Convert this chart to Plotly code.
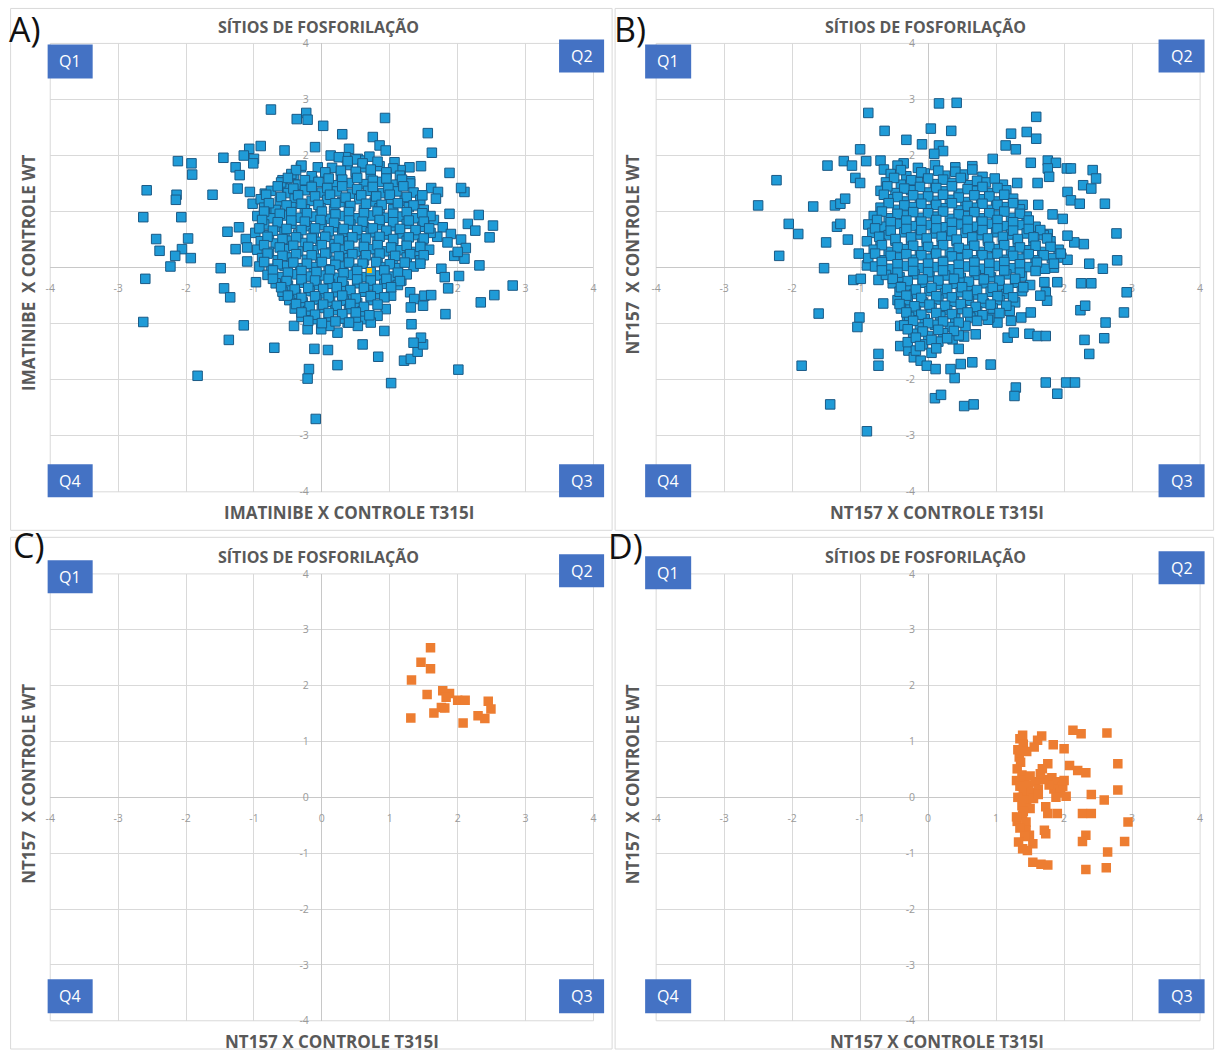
import plotly.graph_objects as go

# ---------------- DATA ----------------
TITLE = "SÍTIOS DE FOSFORILAÇÃO"
x_titles = ["IMATINIBE X CONTROLE T315I", "NT157 X CONTROLE T315I", "NT157 X CONTROLE T315I", "NT157 X CONTROLE T315I"]
y_titles = ["IMATINIBE\u00a0 X CONTROLE WT", "NT157\u00a0 X CONTROLE WT", "NT157\u00a0 X CONTROLE WT", "NT157\u00a0 X CONTROLE WT"]
panel_letters = ["A)", "B)", "C)", "D)"]
quadrant_labels = ["Q1", "Q2", "Q3", "Q4"]
tick_values = [-4, -3, -2, -1, 0, 1, 2, 3, 4]
tick_labels = ["-4", "-3", "-2", "-1", "0", "1", "2", "3", "4"]

# Panel A (blue)
panel_a_x = [
    -0.75, -0.37, -0.23, -0.21, 0.02, 0.93, 0.30, 1.56, 1.62, 0.75,
    0.85, 0.94, 0.13, -0.10, -0.55, -0.90, -1.07, -1.15, -1.00, -1.01,
    -1.45, -2.12, -1.92, -1.91, -1.27, -1.21, -2.58, -2.14, -2.15, -1.61,
    -1.24, -1.06, -0.84, -2.63, -2.07, -2.44, -2.39, -1.97, -2.06, -2.16,
    -1.93, -2.23, -2.60, -2.63, -1.83, -1.49, -1.39, -1.22, -1.12, -1.27,
    -1.10, -1.10, -0.97, -1.44, -1.35, -1.15, -1.37, -0.70, -0.41, -0.21,
    -0.11, 0.09, 0.23, -0.19, -0.21, -0.09, 1.02, 2.01, 0.83, 0.60,
    1.21, 1.31, 1.41, 1.49, 1.46, 1.35, 1.32, 0.92, 1.82, 2.34,
    2.54, 2.81, 1.86, 2.02, 2.32, 2.47, 2.52, 2.31, 2.15, 2.26,
    2.10, 2.05, 1.88, 1.46, 1.29, 1.30, 1.95, 2.10, 1.76, 1.81,
    1.61, 1.71, 1.68, 1.88, 1.30, 1.36, 1.51, 1.61, 1.31, 1.49,
    1.17, 1.02, 0.94, 0.82, 0.62, 0.38, 0.23, 0.11, -0.01, 0.53,
    0.72, -0.56, -0.41, -0.31, -0.06, -0.41, -0.14, -0.58, -0.51, -1.02,
    -0.85, -0.70, 0.40, 0.35, 0.53, 0.60, 1.07, 1.16,
    1.65, 1.78, 1.90, 1.70, 1.85, 2.05, 2.12, 2.00,
    # dense core, layer 1
    0.25, 0.50, 0.70,
    -0.30, 0.15, 0.38, 0.60, 0.85, 1.05,
    -0.45, -0.15, 0.05, 0.28, 0.50, 0.72, 0.95, 1.15,
    -0.60, -0.35, -0.05, 0.18, 0.40, 0.62, 0.85, 1.05, 1.30,
    -0.75, -0.50, -0.25, 0.00, 0.22, 0.45, 0.68, 0.90, 1.10, 1.35,
    -0.90, -0.62, -0.40, -0.15, 0.08, 0.30, 0.55, 0.78, 1.00, 1.22, 1.45,
    -0.85, -0.68, -0.45, -0.25, -0.02, 0.18, 0.40, 0.62, 0.85, 1.05, 1.28, 1.50,
    -0.95, -0.75, -0.55, -0.35, -0.12, 0.08, 0.30, 0.50, 0.72, 0.95, 1.15, 1.38, 1.60,
    -0.85, -0.65, -0.45, -0.22, 0.00, 0.20, 0.42, 0.62, 0.85, 1.05, 1.25, 1.48,
    -0.98, -0.78, -0.55, -0.35, -0.12, 0.08, 0.30, 0.52, 0.72, 0.95, 1.15, 1.38, 1.60,
    -0.90, -0.68, -0.45, -0.25, -0.02, 0.18, 0.40, 0.62, 0.82, 1.05, 1.25, 1.48,
    -0.95, -0.78, -0.55, -0.35, -0.12, 0.08, 0.30, 0.50, 0.72, 0.92, 1.15, 1.38, 1.58,
    -0.88, -0.65, -0.45, -0.22, -0.02, 0.20, 0.40, 0.62, 0.82, 1.05, 1.25, 1.45,
    -0.92, -0.75, -0.55, -0.32, -0.12, 0.10, 0.30, 0.50, 0.92, 1.12, 1.35,
    -0.80, -0.62, -0.42, -0.20, 0.00, 0.20, 0.42, 0.62, 0.82, 1.02, 1.25,
    -0.68, -0.50, -0.30, -0.08, 0.12, 0.32, 0.52, 0.72, 0.92, 1.12,
    -0.58, -0.38, -0.18, 0.02, 0.22, 0.42, 0.62, 0.82,
    -0.48, -0.28, -0.08, 0.12, 0.32, 0.52, 0.72,
    -0.40, -0.20, 0.00, 0.20, 0.40, 0.60,
    -0.30, -0.10, 0.10, 0.30, 0.50,
    # dense core, layer 2
    0.38, 0.60, 0.82,
    -0.38, 0.05, 0.28, 0.50, 0.72, 0.95,
    -0.50, -0.25, 0.10, 0.30, 0.52, 0.75, 0.95, 1.18,
    -0.65, -0.42, -0.15, 0.08, 0.30, 0.52, 0.75, 0.98, 1.20,
    -0.82, -0.60, -0.35, -0.10, 0.12, 0.35, 0.58, 0.80, 1.00, 1.25, 1.48,
    -0.78, -0.52, -0.30, -0.05, 0.20, 0.42, 0.65, 0.88, 1.12, 1.35,
    -0.85, -0.62, -0.45, -0.22, 0.00, 0.20, 0.40, 0.62, 0.82, 1.05, 1.25, 1.48,
    -0.88, -0.65, -0.45, -0.25, -0.02, 0.18, 0.40, 0.60, 0.85, 1.05, 1.28, 1.50,
    -0.92, -0.72, -0.52, -0.30, -0.10, 0.10, 0.32, 0.52, 0.75, 0.95, 1.15, 1.38, 1.58,
    -0.80, -0.58, -0.38, -0.15, 0.05, 0.25, 0.45, 0.65, 0.85, 1.05, 1.28, 1.50,
    -0.85, -0.62, -0.42, -0.20, 0.00, 0.20, 0.40, 0.62, 0.82, 1.02, 1.25, 1.45,
    -0.80, -0.58, -0.38, -0.15, 0.05, 0.25, 0.45, 0.65, 0.85, 1.08, 1.30, 1.50,
    -0.85, -0.65, -0.42, -0.22, 0.00, 0.20, 0.40, 0.60, 0.80, 1.00, 1.22, 1.45,
    -0.72, -0.50, -0.30, -0.08, 0.12, 0.32, 0.52, 0.72, 0.92, 1.12,
    -0.72, -0.52, -0.30, -0.10, 0.10, 0.30, 0.52, 0.72, 0.95, 1.15,
    -0.60, -0.40, -0.20, 0.02, 0.22, 0.42, 0.62, 0.82, 1.02,
    -0.50, -0.30, -0.10, 0.10, 0.30, 0.50, 0.72, 0.92,
    -0.38, -0.18, 0.02, 0.22, 0.42, 0.62, 0.82,
    -0.30, -0.10, 0.10, 0.30, 0.50, 0.70,
    -0.20, 0.00, 0.20, 0.40,
]
panel_a_y = [
    2.82, 2.65, 2.76, 2.64, 2.53, 2.67, 2.38, 2.40, 2.05, 2.33,
    2.18, 2.09, 2.00, 2.15, 2.09, 2.17, 2.12, 2.00, 1.94, 1.86,
    1.96, 1.90, 1.86, 1.66, 1.79, 1.65, 1.38, 1.30, 1.21, 1.30,
    1.41, 1.35, 1.32, 0.90, 0.90, 0.51, 0.30, 0.52, 0.33, 0.21,
    0.17, 0.02, -0.20, -0.97, -1.93, -0.01, 0.64, 0.72, 0.51, 0.33,
    0.36, 0.11, -0.26, -0.37, -0.53, -1.03, -1.29, -1.43, -1.04, -1.10,
    -1.45, -1.47, -1.74, -1.81, -1.98, -2.70, -2.06, -1.82, -1.59, -1.37,
    -1.66, -1.63, -1.50, -1.37, -1.25, -1.34, -1.01, -1.13, -0.83, -0.62,
    -0.49, -0.32, -0.37, -0.15, 0.04, 0.54, 0.75, 0.94, 0.78, 0.66,
    1.35, 1.42, 1.69, 1.81, 1.79, 1.54, 0.21, 0.16, -0.02, -0.17,
    1.42, 1.35, 1.23, 0.96, -0.44, -0.56, -0.50, -0.49, -0.71, -0.68,
    -0.23, -0.50, -0.74, -0.86, -0.92, -0.98, -1.16, -1.04, -1.10, -1.04,
    -0.98, -0.50, -0.56, 1.79, 1.79, 1.65, 1.56, 1.56, 1.41, 1.14,
    1.08, 1.02, 2.12, 1.97, 1.94, 1.91, 1.88, 1.74,
    0.85, 0.72, 0.60, 0.55, 0.45, 0.50, 0.35, 0.28,
    # dense core, layer 1
    1.97, 1.93, 1.98,
    1.82, 1.78, 1.83, 1.79, 1.81, 1.77,
    1.67, 1.63, 1.68, 1.64, 1.66, 1.62, 1.67, 1.64,
    1.52, 1.48, 1.53, 1.47, 1.51, 1.49, 1.53, 1.48, 1.50,
    1.37, 1.33, 1.38, 1.34, 1.36, 1.32, 1.37, 1.33, 1.36, 1.34,
    1.22, 1.18, 1.23, 1.19, 1.21, 1.17, 1.22, 1.18, 1.23, 1.19, 1.21,
    1.07, 1.03, 1.08, 1.04, 1.06, 1.02, 1.07, 1.03, 1.06, 1.04, 1.08, 1.03,
    0.92, 0.88, 0.93, 0.89, 0.91, 0.87, 0.92, 0.88, 0.93, 0.89, 0.91, 0.88, 0.92,
    0.77, 0.73, 0.78, 0.74, 0.76, 0.72, 0.77, 0.73, 0.76, 0.74, 0.78, 0.73,
    0.62, 0.58, 0.63, 0.59, 0.61, 0.57, 0.62, 0.58, 0.63, 0.59, 0.61, 0.58, 0.62,
    0.47, 0.43, 0.48, 0.44, 0.46, 0.42, 0.47, 0.43, 0.46, 0.44, 0.48, 0.43,
    0.32, 0.28, 0.33, 0.29, 0.31, 0.27, 0.32, 0.28, 0.33, 0.29, 0.31, 0.28, 0.32,
    0.17, 0.13, 0.18, 0.14, 0.16, 0.12, 0.17, 0.13, 0.16, 0.14, 0.18, 0.13,
    0.02, -0.02, 0.03, -0.01, 0.01, -0.03, 0.02, -0.02, 0.01, -0.01, 0.02,
    -0.13, -0.17, -0.12, -0.16, -0.14, -0.18, -0.13, -0.17, -0.14, -0.16, -0.12,
    -0.28, -0.32, -0.27, -0.31, -0.29, -0.33, -0.28, -0.32, -0.29, -0.31,
    -0.43, -0.47, -0.42, -0.46, -0.44, -0.48, -0.43, -0.47,
    -0.58, -0.62, -0.57, -0.61, -0.59, -0.63, -0.58,
    -0.73, -0.77, -0.72, -0.76, -0.74, -0.78,
    -0.88, -0.92, -0.87, -0.91, -0.89,
    # dense core, layer 2
    1.90, 1.86, 1.89,
    1.74, 1.70, 1.73, 1.71, 1.75, 1.70,
    1.60, 1.56, 1.59, 1.57, 1.60, 1.55, 1.59, 1.57,
    1.45, 1.41, 1.44, 1.42, 1.45, 1.40, 1.44, 1.42, 1.45,
    1.30, 1.26, 1.29, 1.27, 1.30, 1.25, 1.29, 1.27, 1.30, 1.26, 1.29,
    1.15, 1.11, 1.14, 1.12, 1.15, 1.10, 1.14, 1.12, 1.15, 1.11,
    1.00, 0.96, 0.99, 0.97, 1.00, 0.95, 0.99, 0.97, 1.00, 0.96, 0.99, 0.97,
    0.85, 0.81, 0.84, 0.82, 0.85, 0.80, 0.84, 0.82, 0.85, 0.81, 0.84, 0.82,
    0.70, 0.66, 0.69, 0.67, 0.70, 0.65, 0.69, 0.67, 0.70, 0.66, 0.69, 0.67, 0.70,
    0.55, 0.51, 0.54, 0.52, 0.55, 0.50, 0.54, 0.52, 0.55, 0.51, 0.54, 0.52,
    0.40, 0.36, 0.39, 0.37, 0.40, 0.35, 0.39, 0.37, 0.40, 0.36, 0.39, 0.37,
    0.25, 0.21, 0.24, 0.22, 0.25, 0.20, 0.24, 0.22, 0.25, 0.21, 0.24, 0.22,
    0.10, 0.06, 0.09, 0.07, 0.10, 0.05, 0.09, 0.07, 0.10, 0.06, 0.09, 0.07,
    -0.05, -0.09, -0.06, -0.08, -0.05, -0.10, -0.06, -0.08, -0.05, -0.09,
    -0.20, -0.24, -0.21, -0.23, -0.20, -0.25, -0.21, -0.23, -0.20, -0.24,
    -0.35, -0.39, -0.36, -0.38, -0.35, -0.40, -0.36, -0.38, -0.35,
    -0.50, -0.54, -0.51, -0.53, -0.50, -0.55, -0.51, -0.53,
    -0.65, -0.69, -0.66, -0.68, -0.65, -0.70, -0.66,
    -0.80, -0.84, -0.81, -0.83, -0.80, -0.85,
    -0.95, -0.99, -0.96, -0.98,
]
# single yellow point hidden in panel A
panel_a_extra_x = [0.70]
panel_a_extra_y = [-0.05]

# Panel B (blue)
panel_b_x = [
    0.16, 0.42, -0.88, 1.59, -0.64, 0.04, 0.34, -0.32, -0.09, 0.16,
    0.22, 0.09, -1.00, 1.22, 1.45, 1.59, 1.14, 1.29, 0.95, -1.48,
    -1.24, -1.12, -0.91, -0.70, -0.65, -0.36, -1.07, -1.00, -2.23, -2.50,
    -1.69, -1.37, -1.29, -1.22, -2.05, -1.91, -1.34, -1.29, -2.19, -1.50,
    -1.18, -1.53, -1.02, -0.90, -1.10, -0.99, -0.73, -0.66, -1.61, -1.01,
    -1.04, -0.73, -0.73, -1.86, -1.44, -0.90, -0.45, -0.33, -0.41, -0.31,
    -0.41, -0.29, -0.21, -0.11, -0.02, 0.11, 0.10, 0.19, 0.53, 0.67,
    0.39, 0.65, 0.48, 0.33, 0.92, 0.70, 0.53, 0.36, 0.45, 1.22,
    1.02, 0.90, 1.37, 1.51, 1.29, 1.27, 1.73, 2.03, 2.16, 1.90,
    2.37, 2.30, 2.59, 2.61, 2.88, 2.92, 2.24, 2.31, 2.25, 2.40,
    2.37, 2.57, 2.78, 2.77, 2.29, 2.15, 2.05, 1.83, 1.98, 2.05,
    2.10, 2.23, 2.60, 2.42, 2.47, 2.28, 2.40, 1.51, 1.76, 1.88,
    2.04, 2.10, 1.76, 1.78, 1.61, 1.71, 1.90, 1.73, 1.75, 1.65,
    1.49, 1.61, 1.73, 1.17, 1.26, 1.96, 1.85, 1.76, 1.62, 1.39,
    1.31,
    # dense core, layer 1
    -0.45, -0.15, 0.10, 0.40, 0.65,
    -0.55, -0.32, -0.05, 0.25, 0.52, 0.80,
    -0.62, -0.40, -0.15, 0.10, 0.35, 0.60, 0.85, 1.10,
    -0.70, -0.48, -0.25, 0.00, 0.22, 0.45, 0.68, 0.90, 1.15,
    -0.58, -0.35, -0.12, 0.10, 0.32, 0.55, 0.78, 1.00, 1.25,
    -0.70, -0.45, -0.22, 0.00, 0.22, 0.45, 0.68, 0.90, 1.12, 1.35,
    -0.80, -0.58, -0.35, -0.12, 0.10, 0.32, 0.55, 0.78, 1.00, 1.22, 1.45,
    -0.88, -0.68, -0.45, -0.22, 0.00, 0.22, 0.45, 0.68, 0.90, 1.12, 1.35, 1.58,
    -0.82, -0.58, -0.35, -0.12, 0.10, 0.32, 0.55, 0.78, 1.00, 1.22, 1.45, 1.70,
    -0.90, -0.70, -0.48, -0.25, -0.02, 0.20, 0.42, 0.65, 0.88, 1.10, 1.32, 1.55, 1.80,
    -0.80, -0.58, -0.35, -0.12, 0.10, 0.32, 0.55, 0.78, 1.00, 1.22, 1.45, 1.68, 1.92,
    -0.88, -0.68, -0.45, -0.22, 0.00, 0.22, 0.45, 0.68, 0.90, 1.12, 1.35, 1.58, 1.82, 2.05,
    -0.78, -0.55, -0.32, -0.10, 0.12, 0.35, 0.58, 0.80, 1.02, 1.25, 1.48, 1.72,
    -0.62, -0.42, -0.20, 0.02, 0.25, 0.48, 0.70, 0.92, 1.15, 1.38,
    -0.52, -0.30, -0.08, 0.15, 0.38, 0.60, 0.82, 1.05, 1.28, 1.50,
    -0.42, -0.20, 0.02, 0.25, 0.48, 0.70, 0.92, 1.15, 1.38,
    -0.30, -0.08, 0.15, 0.38, 0.60, 0.82, 1.05, 1.28,
    -0.40, -0.18, 0.05, 0.28, 0.50, 0.72, 0.95, 1.20,
    -0.28, -0.05, 0.18, 0.40, 0.62, 0.88,
    -0.35, -0.12, 0.10, 0.32, 0.55,
    -0.22, 0.00, 0.22, 0.45,
    -0.30, -0.08, 0.15,
    -0.18, 0.05,
    # dense core, layer 2
    -0.40, -0.10, 0.15, 0.40, 0.65,
    -0.50, -0.25, 0.00, 0.22, 0.48, 0.72, 0.98,
    -0.60, -0.35, -0.12, 0.12, 0.35, 0.58, 0.80, 1.02,
    -0.65, -0.45, -0.22, 0.00, 0.22, 0.45, 0.68, 0.90, 1.12,
    -0.58, -0.35, -0.10, 0.12, 0.35, 0.58, 0.80, 1.02, 1.25,
    -0.68, -0.45, -0.22, 0.00, 0.22, 0.45, 0.68, 0.90, 1.12, 1.35,
    -0.75, -0.55, -0.32, -0.10, 0.12, 0.35, 0.58, 0.80, 1.02, 1.25, 1.48,
    -0.78, -0.55, -0.32, -0.10, 0.12, 0.35, 0.58, 0.80, 1.02, 1.25, 1.48, 1.65,
    -0.72, -0.48, -0.25, -0.02, 0.20, 0.42, 0.65, 0.88, 1.10, 1.32, 1.55, 1.75,
    -0.68, -0.45, -0.22, 0.00, 0.22, 0.45, 0.68, 0.90, 1.12, 1.35, 1.58, 1.80,
    -0.78, -0.55, -0.32, -0.10, 0.12, 0.35, 0.58, 0.80, 1.02, 1.25, 1.48, 1.70, 1.95,
    -0.68, -0.45, -0.22, 0.00, 0.22, 0.45, 0.68, 0.90, 1.12, 1.35, 1.60, 1.85,
    -0.68, -0.45, -0.22, 0.00, 0.22, 0.45, 0.68, 0.90, 1.12, 1.35, 1.58,
    -0.52, -0.30, -0.08, 0.15, 0.38, 0.60, 0.82, 1.05, 1.28,
    -0.40, -0.18, 0.05, 0.28, 0.50, 0.72, 0.95, 1.18, 1.40,
    -0.32, -0.10, 0.12, 0.35, 0.58, 0.80, 1.02, 1.25,
    -0.42, -0.20, 0.02, 0.25, 0.48, 0.70, 0.92, 1.15,
    -0.32, -0.10, 0.12, 0.35, 0.58, 0.80, 1.05,
    -0.22, 0.00, 0.22, 0.45, 0.72,
    -0.30, -0.08, 0.15, 0.38,
    -0.18, 0.05, 0.28,
    -0.12, 0.12,
]
panel_b_y = [
    2.93, 2.94, 2.76, 2.69, 2.44, 2.48, 2.44, 2.28, 2.20, 2.18,
    2.08, 2.03, 2.11, 2.39, 2.42, 2.30, 2.18, 2.11, 1.94, 1.82,
    1.90, 1.82, 1.90, 1.91, 1.75, 1.86, 1.60, 1.51, 1.56, 1.11,
    1.09, 1.11, 1.14, 1.23, 0.78, 0.60, 0.73, 0.78, 0.21, 0.45,
    0.50, -0.01, 0.25, 0.04, -0.22, -0.20, -0.22, -0.64, -0.82, -0.89,
    -1.06, -1.54, -1.75, -1.75, -2.44, -2.92, -0.58, -0.65, -1.04, -0.95,
    -1.40, -1.48, -1.60, -1.66, -1.75, -1.81, -2.33, -2.27, -2.47, -2.44,
    -1.97, -1.69, -1.72, -1.81, -1.73, -1.19, -1.23, -1.28, -1.45, -0.95,
    -0.98, -0.89, -0.89, -0.80, -2.14, -2.29, -2.05, -2.05, -2.05, -2.25,
    -1.54, -1.29, -1.26, -0.98, -0.80, -0.44, -0.76, -0.68, -0.28, -0.28,
    0.07, -0.02, 0.13, 0.61, 0.42, 0.45, 0.57, 0.95, 0.87, 1.35,
    1.20, 1.14, 1.14, 1.74, 1.59, 1.47, 1.41, 1.87, 1.91, 1.87,
    1.77, 1.77, 1.77, 1.62, 1.51, -0.26, -0.26, -0.44, -0.59, -0.50,
    -1.18, -1.22, -1.22, -1.25, -1.16, 0.18, 0.00, 0.60, 1.12, 1.12,
    1.51,
    # dense core, layer 1
    1.82, 1.78, 1.83, 1.79, 1.81,
    1.67, 1.63, 1.68, 1.64, 1.66, 1.62,
    1.52, 1.48, 1.53, 1.49, 1.51, 1.47, 1.52, 1.48,
    1.37, 1.33, 1.38, 1.34, 1.36, 1.32, 1.37, 1.33, 1.38,
    1.22, 1.18, 1.23, 1.19, 1.21, 1.17, 1.22, 1.18, 1.23,
    1.07, 1.03, 1.08, 1.04, 1.06, 1.02, 1.07, 1.03, 1.08, 1.04,
    0.92, 0.88, 0.93, 0.89, 0.91, 0.87, 0.92, 0.88, 0.93, 0.89, 0.91,
    0.77, 0.73, 0.78, 0.74, 0.76, 0.72, 0.77, 0.73, 0.78, 0.74, 0.76, 0.73,
    0.62, 0.58, 0.63, 0.59, 0.61, 0.57, 0.62, 0.58, 0.63, 0.59, 0.61, 0.58,
    0.47, 0.43, 0.48, 0.44, 0.46, 0.42, 0.47, 0.43, 0.48, 0.44, 0.46, 0.43, 0.47,
    0.32, 0.28, 0.33, 0.29, 0.31, 0.27, 0.32, 0.28, 0.33, 0.29, 0.31, 0.28, 0.32,
    0.17, 0.13, 0.18, 0.14, 0.16, 0.12, 0.17, 0.13, 0.18, 0.14, 0.16, 0.13, 0.17, 0.14,
    0.02, -0.02, 0.03, -0.01, 0.01, -0.03, 0.02, -0.02, 0.03, -0.01, 0.01, -0.02,
    -0.13, -0.17, -0.12, -0.16, -0.14, -0.18, -0.13, -0.17, -0.12, -0.16,
    -0.28, -0.32, -0.27, -0.31, -0.29, -0.33, -0.28, -0.32, -0.27, -0.31,
    -0.43, -0.47, -0.42, -0.46, -0.44, -0.48, -0.43, -0.47, -0.42,
    -0.58, -0.62, -0.57, -0.61, -0.59, -0.63, -0.58, -0.62,
    -0.73, -0.77, -0.72, -0.76, -0.74, -0.78, -0.73, -0.77,
    -0.88, -0.92, -0.87, -0.91, -0.89, -0.93,
    -1.03, -1.07, -1.02, -1.06, -1.04,
    -1.18, -1.22, -1.17, -1.21,
    -1.33, -1.37, -1.32,
    -1.48, -1.52,
    # dense core, layer 2
    1.74, 1.70, 1.73, 1.71, 1.75,
    1.60, 1.56, 1.59, 1.57, 1.60, 1.55, 1.59,
    1.45, 1.41, 1.44, 1.42, 1.45, 1.40, 1.44, 1.42,
    1.30, 1.26, 1.29, 1.27, 1.30, 1.25, 1.29, 1.27, 1.30,
    1.15, 1.11, 1.14, 1.12, 1.15, 1.10, 1.14, 1.12, 1.15,
    1.00, 0.96, 0.99, 0.97, 1.00, 0.95, 0.99, 0.97, 1.00, 0.96,
    0.85, 0.81, 0.84, 0.82, 0.85, 0.80, 0.84, 0.82, 0.85, 0.81, 0.84,
    0.70, 0.66, 0.69, 0.67, 0.70, 0.65, 0.69, 0.67, 0.70, 0.66, 0.69, 0.67,
    0.55, 0.51, 0.54, 0.52, 0.55, 0.50, 0.54, 0.52, 0.55, 0.51, 0.54, 0.52,
    0.40, 0.36, 0.39, 0.37, 0.40, 0.35, 0.39, 0.37, 0.40, 0.36, 0.39, 0.37,
    0.25, 0.21, 0.24, 0.22, 0.25, 0.20, 0.24, 0.22, 0.25, 0.21, 0.24, 0.22, 0.25,
    0.10, 0.06, 0.09, 0.07, 0.10, 0.05, 0.09, 0.07, 0.10, 0.06, 0.09, 0.07,
    -0.05, -0.09, -0.06, -0.08, -0.05, -0.10, -0.06, -0.08, -0.05, -0.09, -0.06,
    -0.20, -0.24, -0.21, -0.23, -0.20, -0.25, -0.21, -0.23, -0.20,
    -0.35, -0.39, -0.36, -0.38, -0.35, -0.40, -0.36, -0.38, -0.35,
    -0.50, -0.54, -0.51, -0.53, -0.50, -0.55, -0.51, -0.53,
    -0.65, -0.69, -0.66, -0.68, -0.65, -0.70, -0.66, -0.68,
    -0.80, -0.84, -0.81, -0.83, -0.80, -0.85, -0.81,
    -0.95, -0.99, -0.96, -0.98, -0.95,
    -1.10, -1.14, -1.11, -1.13,
    -1.25, -1.29, -1.26,
    -1.40, -1.44,
]

# Panel C (orange)
panel_c_x = [1.60, 1.46, 1.60, 1.32, 1.55, 1.78, 1.88, 1.83, 2.00, 2.11,
             2.45, 2.49, 1.76, 1.81, 1.65, 1.31, 2.30, 2.40, 2.08]
panel_c_y = [2.68, 2.42, 2.30, 2.10, 1.84, 1.91, 1.86, 1.79, 1.74, 1.74,
             1.72, 1.58, 1.61, 1.60, 1.51, 1.42, 1.46, 1.41, 1.33]

# Panel D (orange)
panel_d_x = [
    1.39, 1.56, 1.67, 1.61, 2.13, 2.25, 2.63, 1.84, 2.00, 2.79,
    2.79, 1.34, 1.36, 1.31, 1.76, 1.68, 2.08, 2.20, 2.32, 2.40,
    2.59, 1.39, 1.44, 1.31, 1.73, 1.76, 1.90, 2.27, 2.40, 2.94,
    1.44, 1.49, 1.71, 1.73, 2.32, 2.27, 2.89, 1.54, 1.39, 2.64,
    1.54, 1.66, 1.76, 2.32, 2.62,
    1.35, 1.40, 1.32, 1.45, 1.38, 1.30, 1.42, 1.50, 1.35, 1.48,
    1.58, 1.40, 1.52, 1.62, 1.32, 1.45, 1.55, 1.38, 1.50, 1.35,
    1.42, 1.33, 1.46, 1.40, 1.30, 1.82, 1.90, 1.98, 1.85, 1.95,
    2.03, 1.88, 2.00, 1.78, 1.70, 1.65, 1.62,
]
panel_d_y = [
    1.11, 0.90, 1.10, 1.02, 1.20, 1.14, 1.15, 0.94, 0.87, 0.60,
    0.13, 0.72, 0.63, 0.51, 0.60, 0.51, 0.57, 0.48, 0.44, 0.05,
    -0.05, -0.32, -0.44, -0.43, -0.17, -0.29, -0.29, -0.29, -0.29, -0.44,
    -0.59, -0.68, -0.59, -0.65, -0.68, -0.79, -0.79, -0.83, -0.92, -0.98,
    -1.16, -1.20, -1.21, -1.29, -1.26,
    1.05, 0.95, 0.85, 0.82, 0.40, 0.30, 0.30, 0.38, 0.20, 0.22,
    0.28, 0.10, 0.08, 0.15, 0.00, -0.05, -0.02, -0.15, -0.20, -0.55,
    -0.70, -0.80, -0.95, -0.25, -0.35, 0.35, 0.28, 0.20, 0.15, 0.08,
    0.02, 0.00, 0.30, 0.22, 0.32, 0.42, 0.05,
]

for _a, _b in [(panel_a_x, panel_a_y), (panel_b_x, panel_b_y), (panel_c_x, panel_c_y), (panel_d_x, panel_d_y)]:
    assert len(_a) == len(_b), (len(_a), len(_b))

# ---------------- STYLE ----------------
W, H = 1217, 1056
# measured page->picture mapping of the capture (small scale + offset), compensated here
SX, OX = 0.9926, 5.4
SY, OY = 0.987, 6.56
BLUE = "#1F9BD7"
BLUE_EDGE = "#1B5A86"
ORANGE = "#ED7D31"
GRID = "#D9D9D9"
TXT = "#595959"
QBOX = "#4472C4"
FONT = "Open Sans"


def px(x):
    return min(max(((x - OX) / SX) / W, 0.0), 1.0)


def py(y):
    return min(max(1 - ((y - OY) / SY) / H, 0.0), 1.0)


panels = [
    dict(ax="", xr=(50.6, 593.4), yr=(43, 491.5), frame=(11, 8, 612, 530),
         title=(319, 27), xt=(349, 512), yt=(29, 272), letter=(25, 29),
         q=[(48, 44, 93, 78), (559, 39, 604, 72), (559, 464, 604, 497), (48, 464, 93, 497)]),
    dict(ax="2", xr=(656, 1199.5), yr=(43, 491.5), frame=(615, 8, 1213, 530),
         title=(925, 27), xt=(937, 512), yt=(632, 254), letter=(630, 29),
         q=[(645, 44, 691, 78), (1158, 39, 1204, 72), (1158, 464, 1204, 497), (645, 464, 691, 497)]),
    dict(ax="3", xr=(50.6, 593.4), yr=(573.6, 1020.6), frame=(11, 537, 612, 1052),
         title=(319, 557), xt=(332, 1041), yt=(29, 784), letter=(29, 545),
         q=[(48, 560, 93, 593), (559, 554, 604, 587), (559, 979, 604, 1013), (48, 979, 93, 1013)]),
    dict(ax="4", xr=(656, 1199.5), yr=(573.6, 1020.6), frame=(615, 537, 1213, 1052),
         title=(925, 557), xt=(937, 1041), yt=(632, 784), letter=(625, 546),
         q=[(645, 556, 691, 589), (1158, 551, 1204, 584), (1158, 979, 1204, 1013), (645, 979, 691, 1013)]),
]

fig = go.Figure()

series = [
    (panel_a_x, panel_a_y, BLUE, BLUE_EDGE, 1),
    (panel_b_x, panel_b_y, BLUE, BLUE_EDGE, 1),
    (panel_c_x, panel_c_y, ORANGE, ORANGE, 0),
    (panel_d_x, panel_d_y, ORANGE, ORANGE, 0),
]

for p, (sx, sy, col, edge, lw) in zip(panels, series):
    fig.add_trace(go.Scatter(
        x=sx, y=sy, mode="markers", xaxis="x" + p["ax"], yaxis="y" + p["ax"],
        marker=dict(symbol="square", size=9.5, color=col, line=dict(color=edge, width=lw)),
        showlegend=False, hoverinfo="skip"))

fig.add_trace(go.Scatter(
    x=panel_a_extra_x, y=panel_a_extra_y, mode="markers", xaxis="x", yaxis="y",
    marker=dict(symbol="square", size=5, color="#FFC000", line=dict(width=0)),
    showlegend=False, hoverinfo="skip"))

shapes = []
annotations = []
layout_axes = {}

for p in panels:
    xd = [px(p["xr"][0]), px(p["xr"][1])]
    yd = [py(p["yr"][1]), py(p["yr"][0])]
    common = dict(range=[-4, 4], tickvals=tick_values, ticktext=tick_labels,
                  showgrid=True, gridcolor=GRID, gridwidth=1,
                  zeroline=True, zerolinecolor="#C8C8C8", zerolinewidth=1, showline=False,
                  ticks="", tickfont=dict(family=FONT, size=10.5, color="#9A9A9A"),
                  layer="below traces", fixedrange=True, anchor="free")
    layout_axes["xaxis" + p["ax"]] = dict(common, domain=xd, position=(yd[0] + yd[1]) / 2,
                                          ticklabelstandoff=13)
    layout_axes["yaxis" + p["ax"]] = dict(common, domain=yd, position=(xd[0] + xd[1]) / 2,
                                          ticklabelstandoff=13)
    shapes.append(dict(type="rect", xref="x" + p["ax"] + " domain", yref="y" + p["ax"] + " domain",
                       x0=0, x1=1, y0=0, y1=1, line=dict(color=GRID, width=1), layer="below"))
    fx0, fy0, fx1, fy1 = p["frame"]
    shapes.append(dict(type="rect", xref="paper", yref="paper", x0=px(fx0), x1=px(fx1),
                       y0=py(fy1), y1=py(fy0), line=dict(color=GRID, width=1)))
    for lab, (qx0, qy0, qx1, qy1) in zip(quadrant_labels, p["q"]):
        shapes.append(dict(type="rect", xref="paper", yref="paper", x0=px(qx0), x1=px(qx1),
                           y0=py(qy1), y1=py(qy0), fillcolor=QBOX, line=dict(width=0)))
        annotations.append(dict(text=lab, xref="paper", yref="paper", x=px((qx0 + qx1) / 2),
                                y=py((qy0 + qy1) / 2), showarrow=False, xanchor="center", yanchor="middle",
                                font=dict(family=FONT, size=16, color="white")))
    annotations.append(dict(text="<b>" + TITLE + "</b>", xref="paper", yref="paper",
                            x=px(p["title"][0]), y=py(p["title"][1]), showarrow=False,
                            xanchor="center", yanchor="middle",
                            font=dict(family=FONT, size=16, color=TXT)))

for p, xt, yt, let in zip(panels, x_titles, y_titles, panel_letters):
    annotations.append(dict(text="<b>" + xt + "</b>", xref="paper", yref="paper",
                            x=px(p["xt"][0]), y=py(p["xt"][1]), showarrow=False,
                            xanchor="center", yanchor="middle",
                            font=dict(family=FONT, size=17, color=TXT)))
    annotations.append(dict(text="<b>" + yt + "</b>", xref="paper", yref="paper",
                            x=px(p["yt"][0]), y=py(p["yt"][1]), showarrow=False, textangle=-90,
                            xanchor="center", yanchor="middle",
                            font=dict(family=FONT, size=17, color=TXT)))
    annotations.append(dict(text=let, xref="paper", yref="paper",
                            x=px(p["letter"][0]), y=py(p["letter"][1]), showarrow=False,
                            xanchor="center", yanchor="middle",
                            font=dict(family=FONT, size=34, color="#111111")))

fig.update_layout(
    width=W, height=H, margin=dict(l=0, r=0, t=0, b=0),
    paper_bgcolor="white", plot_bgcolor="white",
    shapes=shapes, annotations=annotations, showlegend=False,
    **layout_axes,
)

fig.write_html("out.html", post_script="document.body.style.margin='0';",
               config={"displayModeBar": False})
